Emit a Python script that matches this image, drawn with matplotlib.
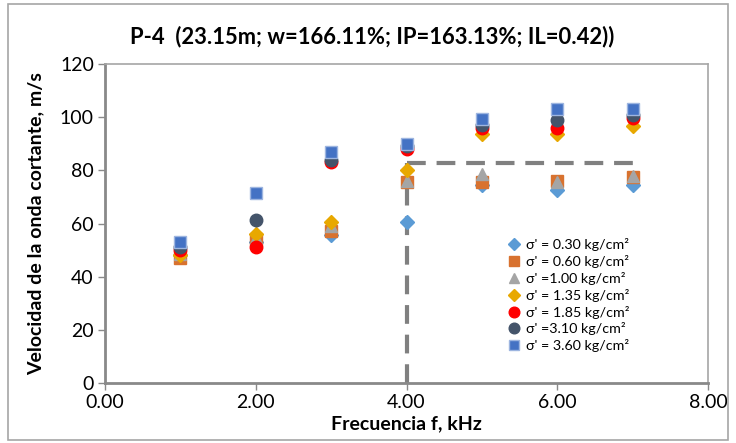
import matplotlib
matplotlib.use("Agg")
import matplotlib.pyplot as plt
from matplotlib.patches import Rectangle

plt.rcParams['font.family'] = ['Lato', 'DejaVu Sans']

# Frequency (kHz) and shear-wave velocity (m/s) for each confining stress
freq = [1, 2, 3, 4, 5, 6, 7]
vs_030 = [48.0, 53.0, 55.5, 60.7, 74.5, 72.5, 74.5]
vs_060 = [47.0, 54.0, 57.0, 75.5, 75.5, 76.0, 77.5]
vs_100 = [48.5, 54.5, 59.0, 76.0, 78.5, 75.5, 78.0]
vs_135 = [48.0, 56.0, 60.5, 80.0, 93.5, 93.5, 96.5]
vs_185 = [50.0, 51.0, 83.0, 88.0, 96.0, 96.0, 99.5]
vs_310 = [51.0, 61.5, 84.0, 89.0, 97.0, 99.0, 101.0]
vs_360 = [53.0, 71.5, 87.0, 90.0, 99.3, 103.0, 103.0]

labels = ["σ' = 0.30 kg/cm²", "σ' = 0.60 kg/cm²", "σ' =1.00 kg/cm²",
          "σ' = 1.35 kg/cm²", "σ' = 1.85 kg/cm²", "σ' =3.10 kg/cm²",
          "σ' = 3.60 kg/cm²"]

# Reference lines: chosen frequency and plateau velocity
f_ref = 4.0
f_end = 7.0
vs_ref = 82.7

x_ticks = [0, 2, 4, 6, 8]
y_ticks = [0, 20, 40, 60, 80, 100, 120]

series = [
    (vs_030, 'D', '#5B9BD5', '#5B9BD5', 7.5),
    (vs_060, 's', '#D8722F', '#D8722F', 8.5),
    (vs_100, '^', '#A5A5A5', '#A5A5A5', 9),
    (vs_135, 'D', '#E8A800', '#E8A800', 7.5),
    (vs_185, 'o', '#FF0000', '#FF0000', 9),
    (vs_310, 'o', '#44546A', '#44546A', 9),
    (vs_360, 's', '#4472C4', '#9DB5E0', 8.5),
]

fig = plt.figure(figsize=(7.36, 4.43), dpi=100)
ax = fig.add_axes([105 / 736, 1 - 383 / 443, 603 / 736, 319 / 443])

# reference dashed lines
ax.plot([f_ref, f_ref], [0, vs_ref], color='#808080', lw=3, ls=(0, (4.5, 2.6)), zorder=1)
ax.plot([f_ref, f_end], [vs_ref, vs_ref], color='#808080', lw=3, ls=(0, (4.5, 2.6)), zorder=1)

for (vals, mk, fc, ec, ms), lab in zip(series, labels):
    ax.plot(freq, vals, ls='none', marker=mk, ms=ms, mfc=fc, mec=ec, mew=1.0,
            label=lab, zorder=3)

ax.set_xlim(0, 8)
ax.set_ylim(0, 120)
ax.set_xticks(x_ticks)
ax.set_xticklabels([f"{v:.2f}" for v in x_ticks])
ax.set_yticks(y_ticks)
ax.tick_params(axis='both', direction='out', length=5, width=1, color='#898989',
               labelsize=14, colors='#898989', labelcolor='#000000')
ax.tick_params(axis='x', pad=3)
ax.tick_params(axis='y', pad=3)

for side in ['left', 'bottom']:
    ax.spines[side].set_color('#898989')
    ax.spines[side].set_linewidth(2)
for side in ['top', 'right']:
    ax.spines[side].set_color('#A6A6A6')
    ax.spines[side].set_linewidth(1.2)

ax.set_xlabel('Frecuencia f, kHz', fontsize=14, fontweight='bold', labelpad=3)
ax.set_ylabel('Velocidad de la onda cortante, m/s', fontsize=14, fontweight='bold', labelpad=11)

fig.text(372 / 736, 1 - 37 / 443, 'P-4  (23.15m; w=166.11%; IP=163.13%; IL=0.42))',
         ha='center', va='center', fontsize=15.8, fontweight='bold')

leg = ax.legend(loc='upper left', bbox_to_anchor=((500 - 105) / 603, (383 - 231) / 319),
                frameon=False, fontsize=10.3, handletextpad=0.35, handlelength=1.0,
                labelspacing=0.27, borderpad=0, markerscale=0.85)

# chart-area border
fig.patches.append(Rectangle((8 / 736, 3 / 443), 720 / 736, 436 / 443, transform=fig.transFigure,
                             fill=False, edgecolor='#A6A6A6', lw=1.2))

fig.savefig('out.png', dpi=100)
